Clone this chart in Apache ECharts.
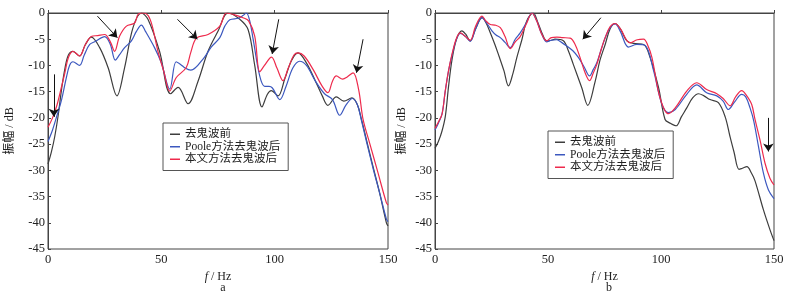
<!DOCTYPE html>
<html>
<head>
<meta charset="utf-8">
<script src="https://cdn.jsdelivr.net/npm/echarts@6/dist/echarts.min.js"></script>
<style>
  html, body { margin: 0; padding: 0; background: #fff; }
  #chartId { width: 805px; height: 293px; }
</style>
</head>
<body>
<div id="chartId"></div>
<script>
// 图例名称
var names = ['去鬼波前', 'Poole方法去鬼波后', '本文方法去鬼波后'];
var xTicks = [0, 50, 100, 150];

// 图 a
var aBeforeF = [0, 1.5, 3, 4.5, 6, 7.5, 9, 11, 13.9, 16.5, 19.1, 22.8, 26.5, 30.4, 33.8, 37.5, 41.2, 44.1, 49.2, 54.1, 57.4, 61.8, 66.2, 70.6, 75.1, 79.4, 84.6, 88.3, 91.2, 94.4, 96.8, 98.5, 101.5, 104.5, 107.5, 110.3, 114, 118, 121, 123.5, 127.2, 130.5, 134.1, 136.5, 138.3, 140.5, 143.4, 146.3, 149.3, 150];
var aBefore = [-28.8, -26.5, -23.5, -19.5, -14.5, -10.5, -8, -7.3, -8.2, -6, -4.6, -6.6, -10.4, -15.8, -10.4, -2.8, 0, -1.2, -7.3, -15.4, -14.2, -17.3, -13, -7.3, -3.4, 0, -1.2, -3.2, -10, -17.9, -15.5, -14.8, -15.8, -12.5, -9, -7.6, -9.5, -13, -15.8, -17.6, -16, -16.8, -16.2, -17.5, -20.3, -24.2, -29.3, -34.3, -40, -40.6];

var aPooleF = [0, 2, 4, 6, 8, 9.5, 11, 13.9, 16, 18.4, 21, 25, 27.5, 29.7, 31.5, 33.8, 36.8, 39, 41.2, 43, 47, 50, 53.7, 56.5, 58.5, 60.5, 63, 68.9, 72, 75.8, 78, 80.2, 84, 86, 87.5, 89, 90.5, 93.4, 95.6, 97.5, 99, 102.3, 105, 108, 111, 114, 118, 122, 125.5, 128.7, 131.5, 134.3, 136.5, 138.3, 140.5, 143.4, 146.3, 149.3, 150];
var aPoole = [-24.5, -22.3, -19.5, -16.5, -12.5, -10, -9.3, -10, -8, -6, -5.4, -4.5, -6, -9, -8, -6.6, -5.3, -3.5, -2.3, -3.5, -6.6, -9.5, -14.5, -9.3, -9.8, -10.5, -10.9, -8.5, -6.5, -4.7, -2.5, -1.3, -1, -0.5, 0, -1.5, -5, -12, -14, -14, -14.3, -16.5, -14, -10.5, -9.2, -10, -13, -15.4, -16.5, -19.5, -17.5, -16.3, -17.5, -20.5, -24.5, -29.6, -34.3, -39.3, -39.8];

var aOursF = [0, 2, 4, 6, 7.4, 9, 11, 13.9, 16.5, 19.1, 22, 25, 27.5, 29.4, 31.6, 34.6, 38.2, 39.8, 42, 44.2, 46, 48.5, 51, 53.7, 56.6, 61, 63, 65.5, 70.6, 75.8, 78.7, 82, 86, 88.5, 91.2, 93.4, 95.5, 98.6, 101, 103.7, 106, 108.5, 110.3, 113, 117, 121, 123.5, 125.5, 127.2, 130, 132, 134.6, 137, 139, 141.9, 145.6, 149.3, 150];
var aOurs = [-21.8, -20, -17.5, -14, -11.5, -8.5, -7.3, -8.2, -6, -4.5, -4.3, -4.1, -5.5, -7.3, -4.4, -2.5, -1.9, -0.2, 0, -0.5, -2.5, -7.3, -11, -14.9, -12.3, -10.4, -7.5, -4.8, -4.1, -2.5, 0, -0.3, -0.9, -1.5, -4.4, -11.2, -10, -8.4, -10.5, -12.9, -10.5, -8, -7.6, -8.2, -10.8, -14, -15.2, -13, -12, -12.6, -12.2, -11.4, -14.5, -20.3, -24.8, -30.5, -36.2, -36.6];

// 图 b
var bBeforeF = [0, 1.5, 3.1, 4.6, 6, 7.5, 9.5, 11.9, 13.5, 15.6, 18, 20.8, 22.5, 24.5, 26.5, 28.3, 30.5, 32.5, 34.5, 36.2, 38.5, 40.6, 43.5, 45.5, 47.5, 49.4, 51.5, 53.1, 56.8, 59, 61.2, 64.9, 67.6, 70.9, 73, 75.3, 77.5, 79.7, 82, 84.9, 87.9, 92.3, 95.2, 98.9, 101.8, 104, 106.7, 109, 111.4, 114, 116.6, 119, 121.7, 125.4, 128.4, 130.5, 132.3, 134.5, 136, 138, 140, 141.6, 145.3, 148.2, 150];
var bBefore = [-25.8, -24.5, -22.5, -19.6, -14, -9, -5, -3.4, -4, -5.3, -3, -0.9, -1.8, -3.8, -6, -8.2, -11, -13.9, -11.5, -8.5, -5, -1.5, 0, -1.8, -4, -5.3, -5.2, -5, -5.3, -7.2, -9.8, -14.2, -17.6, -13, -9, -6, -3, -2, -3, -5.3, -5.8, -6, -8.5, -14.2, -20.3, -21, -21.5, -19.8, -18.1, -16.2, -15.4, -15.8, -16.5, -17.1, -19.8, -23.5, -26.5, -29.8, -29.6, -29.3, -30.5, -32, -37.5, -41.3, -43.4];

var bPooleF = [0, 1.5, 3.1, 4.5, 6, 7.5, 9.5, 11.2, 13.5, 15.6, 18, 20.8, 23, 25.2, 27, 28.9, 31, 33.3, 35.5, 37.7, 40.5, 42.9, 45, 47, 49.4, 51.5, 53.9, 56, 58.3, 61, 63.5, 66, 68.4, 70, 71.6, 73.5, 75.3, 77.5, 79.7, 82, 85.6, 89.3, 93, 96.7, 100.4, 103.3, 106.3, 111.4, 115.8, 120.2, 124.7, 127.5, 129.8, 132.5, 135.7, 137.5, 139.4, 141, 143.1, 145.3, 147.5, 150];
var bPoole = [-22.3, -21, -19.3, -15, -11, -8.1, -5, -3.9, -4.5, -5.4, -3, -0.9, -2, -3.4, -4.2, -4.7, -5.6, -6.6, -5, -3.8, -1.8, 0, -1.5, -3.8, -5.5, -5.2, -5.1, -5.6, -6.3, -7.2, -8.5, -10.3, -12, -10.8, -9.5, -7, -4.7, -2.8, -2.1, -3.5, -6.5, -6, -6.2, -11, -17.4, -19, -18.4, -15.5, -13.7, -15.2, -15.8, -16.8, -18.4, -17, -15.5, -16, -18.1, -20.5, -25.4, -30.5, -33.7, -35.4];

var bOursF = [0, 1.5, 3.1, 4.5, 6, 7.5, 9.5, 11.2, 13.5, 15.6, 18, 20.8, 22.5, 24.5, 26.5, 28.9, 31, 33.3, 35.5, 37.7, 40.5, 42.9, 45, 47, 49.4, 51.5, 53.9, 56.5, 59.8, 62, 64.2, 66.5, 68.4, 70, 71.6, 73.5, 75.3, 77.5, 79.7, 82, 86.3, 89.5, 92.3, 94, 96, 99.6, 103.3, 106.3, 111.4, 115.8, 120.2, 124.7, 127.5, 130.6, 133, 135.7, 137.5, 140.1, 141.6, 143.8, 146, 148.2, 150];
var bOurs = [-22, -20.8, -19.3, -15, -11, -7.9, -4.8, -3.8, -4.5, -5.2, -2.5, -0.6, -1.5, -2.2, -2.3, -2.8, -4.5, -6.8, -5.5, -4.5, -2, 0, -1.5, -3.8, -5.3, -4.7, -4.6, -4.7, -4.8, -6, -8.5, -11.5, -12.9, -11.5, -9.8, -7, -4.7, -2.6, -2, -3, -5.7, -5.1, -5, -6, -8.5, -16.2, -19.2, -18.1, -14.9, -13.3, -14.6, -15.4, -16.3, -17.7, -16, -14.8, -15.5, -17.4, -20.3, -24.2, -28.6, -31.5, -32.8];

// 箭头标注 [起点f, 起点dB, 终点f, 终点dB]
var aArrows = [
  [2.6, -11.7, 2.6, -19.8],
  [21.8, -0.6, 30.6, -4.7],
  [57.1, -1.2, 65.9, -5.0],
  [101.8, -1.2, 98.9, -7.8],
  [139.0, -5.0, 136.1, -11.4]
];
var bArrows = [
  [73.4, -0.9, 65.4, -5.0],
  [147.5, -20.0, 147.5, -26.4]
];

var colors = ['#3d3d3d', '#3c58bf', '#ee2a4c'];
var serifFont = '"Liberation Serif", "Times New Roman", serif';
var cjkFont = '"Liberation Serif", "Noto Sans CJK SC", serif';

function zip(xs, ys) {
  return xs.map(function (x, i) { return [x, ys[i]]; });
}

function arrowLines(list) {
  return list.map(function (a) {
    return [{ coord: [a[0], a[1]] }, { coord: [a[2], a[3]] }];
  });
}

function makeSeries(idx, name, data, arrows) {
  var s = {
    name: name,
    type: 'line',
    xAxisIndex: idx,
    yAxisIndex: idx,
    data: data,
    smooth: 0.35,
    showSymbol: false,
    symbol: 'none',
    lineStyle: { width: 1.2 },
    z: name === names[2] ? 3 : 2,
  };
  if (arrows) {
    s.markLine = {
      silent: true,
      animation: false,
      symbol: ['none', 'arrow'],
      symbolSize: 8,
      label: { show: false },
      lineStyle: { color: '#111', width: 1, type: 'solid' },
      emphasis: { disabled: true },
      data: arrowLines(arrows),
    };
  }
  return s;
}

function xAxisCfg(idx) {
  return {
    type: 'value',
    gridIndex: idx,
    min: 0,
    max: 150,
    interval: 50,
    name: '{i|f} / Hz',
    nameLocation: 'middle',
    nameGap: 22,
    nameMoveOverlap: false,
    nameTextStyle: {
      fontFamily: serifFont,
      fontSize: 12,
      color: '#222',
      rich: { i: { fontStyle: 'italic', fontFamily: serifFont, fontSize: 12, color: '#222' } },
    },
    axisLine: { lineStyle: { color: '#444', width: 1 } },
    axisTick: { inside: true, length: 3, lineStyle: { color: '#444' } },
    axisLabel: {
      fontFamily: serifFont, fontSize: 12.5, color: '#222', margin: 4,
      customValues: xTicks,
    },
    splitLine: { show: false },
  };
}

function yAxisCfg(idx, gap) {
  return {
    type: 'value',
    gridIndex: idx,
    min: -45,
    max: 0,
    interval: 5,
    name: '振幅 / dB',
    nameLocation: 'middle',
    nameGap: gap,
    nameRotate: 90,
    nameMoveOverlap: false,
    nameTextStyle: { fontFamily: cjkFont, fontSize: 12, color: '#222' },
    axisLine: { lineStyle: { color: '#444', width: 1 } },
    axisTick: { inside: true, length: 3, lineStyle: { color: '#444' } },
    axisLabel: { fontFamily: serifFont, fontSize: 12.5, color: '#222', margin: 3 },
    splitLine: { show: false },
  };
}

function legendCfg(left, top) {
  return {
    orient: 'vertical',
    left: left,
    top: top,
    data: names,
    icon: 'rect',
    itemWidth: 10,
    itemHeight: 1.5,
    itemGap: 0,
    padding: [5, 8, 5, 7],
    borderColor: '#555',
    borderWidth: 1,
    backgroundColor: '#fff',
    selectedMode: false,
    textStyle: { fontFamily: cjkFont, fontSize: 11.5, color: '#222', lineHeight: 12.5 },
  };
}

var myChart = echarts.init(document.getElementById('chartId'), null, { renderer: 'canvas' });

var option = {
  animation: false,
  color: colors,
  title: [
    { text: 'a', left: 218, top: 277, textAlign: 'center',
      textStyle: { fontFamily: serifFont, fontSize: 12, fontWeight: 'normal', color: '#222' } },
    { text: 'b', left: 604, top: 277, textAlign: 'center',
      textStyle: { fontFamily: serifFont, fontSize: 12, fontWeight: 'normal', color: '#222' } },
  ],
  legend: [legendCfg(163, 123), legendCfg(548, 131)],
  grid: [
    { left: 48, top: 13, width: 340, height: 236, show: true, borderColor: '#444', borderWidth: 1 },
    { left: 435, top: 13, width: 339, height: 236, show: true, borderColor: '#444', borderWidth: 1 },
  ],
  xAxis: [xAxisCfg(0), xAxisCfg(1)],
  yAxis: [yAxisCfg(0, 32), yAxisCfg(1, 27)],
  series: [
    makeSeries(0, names[0], zip(aBeforeF, aBefore), aArrows),
    makeSeries(0, names[1], zip(aPooleF, aPoole)),
    makeSeries(0, names[2], zip(aOursF, aOurs)),
    makeSeries(1, names[0], zip(bBeforeF, bBefore), bArrows),
    makeSeries(1, names[1], zip(bPooleF, bPoole)),
    makeSeries(1, names[2], zip(bOursF, bOurs)),
  ],
};
myChart.setOption(option);
</script>
</body>
</html>
